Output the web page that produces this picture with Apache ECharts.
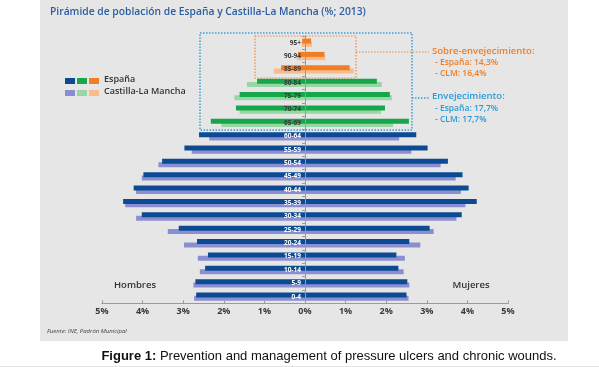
<!DOCTYPE html>
<html><head><meta charset="utf-8">
<script src="https://cdn.jsdelivr.net/npm/echarts@6/dist/echarts.min.js"></script>
<style>html,body{margin:0;padding:0;background:#fff}#c{width:599px;height:367px}</style>
</head><body><div id="c"></div>
<script>
const ages = ['0-4','5-9','10-14','15-19','20-24','25-29','30-34','35-39','40-44','45-49','50-54','55-59','60-64','65-69','70-74','75-79','80-84','85-89','90-94','95+'];
const espanaHombres = [2.68,2.70,2.46,2.39,2.66,3.11,4.02,4.48,4.22,3.98,3.52,2.97,2.61,2.32,1.70,1.61,1.18,0.59,0.17,0.07];
const clmHombres    = [2.73,2.75,2.59,2.64,2.98,3.38,4.16,4.43,4.16,4.02,3.61,2.79,2.36,2.06,1.61,1.74,1.43,0.77,0.20,0.09];
const espanaMujeres = [2.50,2.52,2.30,2.25,2.57,3.07,3.86,4.23,4.03,3.88,3.52,3.02,2.74,2.56,1.97,2.09,1.77,1.10,0.48,0.15];
const clmMujeres    = [2.55,2.57,2.43,2.46,2.84,3.17,3.73,3.95,3.84,3.71,3.34,2.62,2.32,2.17,1.87,2.14,1.89,1.20,0.50,0.17];
const xTicks = [-5,-4,-3,-2,-1,0,1,2,3,4,5];

const darkCol = ['#0c4a94','#17a64a','#f27e22'];
const lightCol = ['#8b8fd2','#98d6a6','#f9ba8c'];
function grp(i){ return i < 13 ? 0 : (i < 17 ? 1 : 2); }

const chart = echarts.init(document.getElementById('c'));
const FONT = 'Open Sans';
function mk(name, data, stack, cols, neg, z){
  return {
    name: name, type: 'bar', stack: stack, barWidth: 5, barGap: '-34%', z: z,
    data: data.map(v => neg ? -v : v),
    itemStyle: { color: p => cols[grp(p.dataIndex)] },
    silent: true, animation: false
  };
}
const gridLeft = 102, gridRight = 91, W = 599;
const halfW = (W - gridLeft - gridRight) / 2;
chart.setOption({
  animation: false,
  grid: { left: gridLeft, right: gridRight, top: 36, bottom: 63.6 },
  xAxis: {
    type: 'value', min: xTicks[0], max: xTicks[xTicks.length - 1], interval: 1,
    axisLine: { show: true, lineStyle: { color: '#9a9a9a' } },
    axisTick: { show: true, inside: true, length: 3, lineStyle: { color: '#9a9a9a' } },
    splitLine: { show: false },
    axisLabel: { formatter: v => Math.abs(v) + '%', color: '#3a3a3a', fontSize: 9, fontWeight: 'bold', fontFamily: FONT, margin: 4 }
  },
  yAxis: {
    type: 'category', data: ages, z: 10, offset: -halfW,
    axisLine: { show: true, onZero: false, lineStyle: { color: '#9a9a9a' } },
    axisTick: { show: true, length: 3, lineStyle: { color: '#9a9a9a' } },
    axisLabel: { margin: 4, fontSize: 6.5, fontWeight: 'bold', fontFamily: FONT,
      color: (v, i) => (i < 13 ? '#ffffff' : '#3a3a3a') }
  },
  series: [
    mk('ES H', espanaHombres, 'es', darkCol, true, 4),
    mk('ES M', espanaMujeres, 'es', darkCol, false, 4),
    mk('CLM H', clmHombres, 'clm', lightCol, true, 3),
    mk('CLM M', clmMujeres, 'clm', lightCol, false, 3)
  ],
  graphic: [
    { type: 'rect', z: -100, shape: { x: 40, y: 0, width: 528, height: 341 }, style: { fill: '#e6e6e6' } },
    { type: 'line', z: -100, shape: { x1: 0, y1: 366.5, x2: 599, y2: 366.5 }, style: { stroke: '#e2e2e2', lineWidth: 1 } },
    { type: 'text', x: 50, y: 7, style: { text: 'Pirámide de población de España y Castilla-La Mancha (%; 2013)', fill: '#2a5ea3', font: '600 10.3px "Open Sans"' } },
    // legend
    { type: 'rect', shape: { x: 65, y: 78, width: 10, height: 6 }, style: { fill: darkCol[0] } },
    { type: 'rect', shape: { x: 77, y: 78, width: 10, height: 6 }, style: { fill: darkCol[1] } },
    { type: 'rect', shape: { x: 89, y: 78, width: 10, height: 6 }, style: { fill: darkCol[2] } },
    { type: 'rect', shape: { x: 65, y: 90, width: 10, height: 6 }, style: { fill: lightCol[0] } },
    { type: 'rect', shape: { x: 77, y: 90, width: 10, height: 6 }, style: { fill: lightCol[1] } },
    { type: 'rect', shape: { x: 89, y: 90, width: 10, height: 6 }, style: { fill: lightCol[2] } },
    { type: 'text', x: 104, y: 75, style: { text: 'España', fill: '#333', font: '600 9px "Open Sans"' } },
    { type: 'text', x: 104, y: 87, style: { text: 'Castilla-La Mancha', fill: '#333', font: '600 9px "Open Sans"' } },
    // boxes
    { type: 'rect', z: 50, shape: { x: 200, y: 33, width: 212, height: 97 }, style: { fill: 'none', stroke: '#3aa0dc', lineWidth: 1.5, lineDash: [1.5, 1.5] } },
    { type: 'rect', z: 50, shape: { x: 255, y: 36, width: 101, height: 42 }, style: { fill: 'none', stroke: '#f08a3c', lineWidth: 1.2, lineDash: [1.5, 1.5] } },
    { type: 'line', z: 50, shape: { x1: 356, y1: 52, x2: 429, y2: 52 }, style: { stroke: '#f08a3c', lineWidth: 1.2, lineDash: [1.5, 1.5] } },
    { type: 'line', z: 50, shape: { x1: 412, y1: 98, x2: 429, y2: 98 }, style: { stroke: '#3aa0dc', lineWidth: 1.5, lineDash: [1.5, 1.5] } },
    { type: 'text', x: 432, y: 46, style: { text: 'Sobre-envejecimiento:', fill: '#f07d23', font: '600 9.5px "Open Sans"' } },
    { type: 'text', x: 435, y: 58, style: { text: '- España: 14,3%', fill: '#f07d23', font: '600 8.5px "Open Sans"' } },
    { type: 'text', x: 435, y: 69, style: { text: '- CLM: 16,4%', fill: '#f07d23', font: '600 8.5px "Open Sans"' } },
    { type: 'text', x: 432, y: 91, style: { text: 'Envejecimiento:', fill: '#2a9ad8', font: '600 9.5px "Open Sans"' } },
    { type: 'text', x: 435, y: 104, style: { text: '- España: 17,7%', fill: '#2a9ad8', font: '600 8.5px "Open Sans"' } },
    { type: 'text', x: 435, y: 115, style: { text: '- CLM: 17,7%', fill: '#2a9ad8', font: '600 8.5px "Open Sans"' } },
    // sides
    { type: 'text', x: 135, y: 285, style: { text: 'Hombres', fill: '#333', font: '600 9.5px "Open Sans"', textAlign: 'center', textVerticalAlign: 'middle' } },
    { type: 'text', x: 471, y: 285, style: { text: 'Mujeres', fill: '#333', font: '600 9.5px "Open Sans"', textAlign: 'center', textVerticalAlign: 'middle' } },
    { type: 'text', x: 47, y: 328, style: { text: 'Fuente: INE, Padrón Municipal', fill: '#444', font: 'italic 6px "Open Sans"' } },
    { type: 'text', x: 329, y: 356, style: { text: '{b|Figure 1:} Prevention and management of pressure ulcers and chronic wounds.', textAlign: 'center', textVerticalAlign: 'middle', fill: '#111', font: '13px "Liberation Sans"', rich: { b: { fontWeight: 'bold', fontSize: 13, fontFamily: 'Liberation Sans', fill: '#111' } } } }
  ]
});
</script></body></html>
